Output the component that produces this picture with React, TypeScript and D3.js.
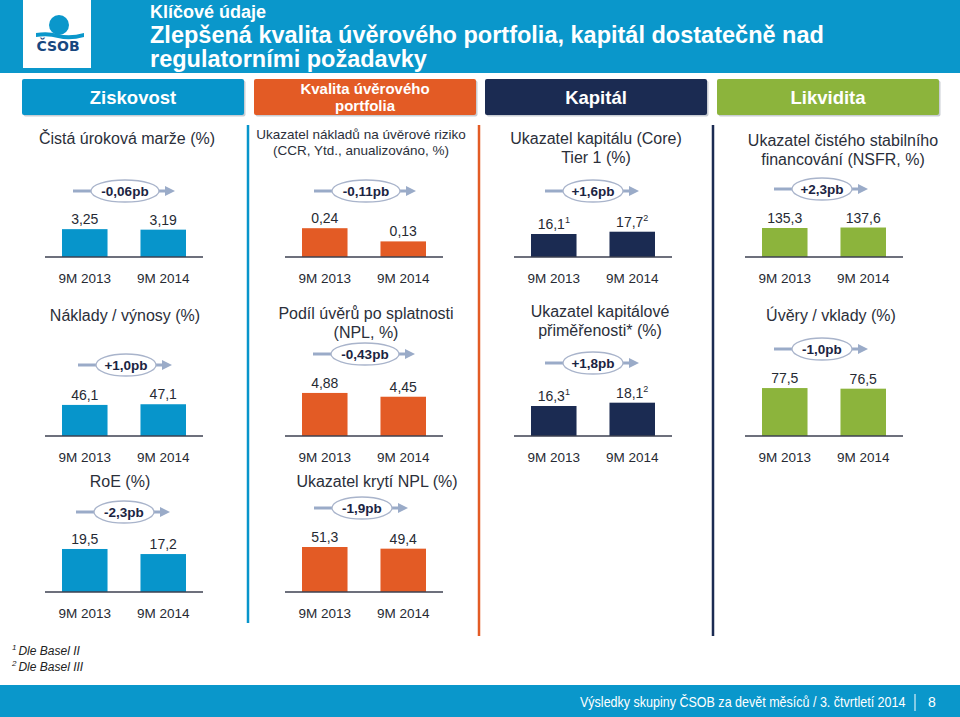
import React from "react";
import * as d3 from "d3";

// ---------- data ----------
const periods = ["9M 2013", "9M 2014"];
const sectionNames = [["Ziskovost"], ["Kvalita úvěrového", "portfolia"], ["Kapitál"], ["Likvidita"]];
const panelTitles = [
  ["Čistá úroková marže (%)"],
  ["Ukazatel nákladů na úvěrové riziko", "(CCR, Ytd., anualizováno, %)"],
  ["Ukazatel kapitálu (Core)", "Tier 1 (%)"],
  ["Ukazatel čistého stabilního", "financování (NSFR, %)"],
  ["Náklady / výnosy (%)"],
  ["Podíl úvěrů po splatnosti", "(NPL, %)"],
  ["Ukazatel kapitálové", "přiměřenosti* (%)"],
  ["Úvěry / vklady (%)"],
  ["RoE (%)"],
  ["Ukazatel krytí NPL (%)"],
];
const values2013 = [3.25, 0.24, 16.1, 135.3, 46.1, 4.88, 16.3, 77.5, 19.5, 51.3];
const values2014 = [3.19, 0.13, 17.7, 137.6, 47.1, 4.45, 18.1, 76.5, 17.2, 49.4];
const labels2013 = ["3,25", "0,24", "16,1", "135,3", "46,1", "4,88", "16,3", "77,5", "19,5", "51,3"];
const labels2014 = ["3,19", "0,13", "17,7", "137,6", "47,1", "4,45", "18,1", "76,5", "17,2", "49,4"];
const notes2013 = ["", "", "1", "", "", "", "1", "", "", ""];
const notes2014 = ["", "", "2", "", "", "", "2", "", "", ""];
const changeLabels = ["-0,06pb", "-0,11pb", "+1,6pb", "+2,3pb", "+1,0pb", "-0,43pb", "+1,8pb", "-1,0pb", "-2,3pb", "-1,9pb"];
const yMax = [7, 0.5, 42, 280, 89, 6.8, 32.6, 97, 27.2, 68.4];
const footnotes = [["1", "Dle Basel II"], ["2", "Dle Basel III"]];
const titleLine1 = "Klíčové údaje";
const titleLine2 = "Zlepšená kvalita úvěrového portfolia, kapitál dostatečně nad";
const titleLine3 = "regulatorními požadavky";
const footerText = "Výsledky skupiny ČSOB za devět měsíců / 3. čtvrtletí 2014";
const pageNumber = "8";

// ---------- layout / style ----------
const W = 960, H = 717;
const FONT = "'Liberation Sans', Arial, Helvetica, sans-serif";
const colColors = ["#0795CB", "#E35B25", "#1B2B52", "#8CB43C"];
const headerX = [22, 254, 485, 717];
const headerW = 222;
const sepX = [248, 479, 713];
const sepEnd = [623, 636, 636];
const panelCol = [0, 1, 2, 3, 0, 1, 2, 3, 0, 1];
const panelRow = [0, 0, 0, 0, 1, 1, 1, 1, 2, 2];
const rowBase = [257, 436, 592];
const barX0 = [62, 302, 531, 762];
const barSpan = 124;
const chartH = 60;
const titleX = [127, 361, 596, 843, 125, 366, 600, 831, 120, 377];
const titleY = [144, 139, 144, 146, 321, 319, 317, 321, 487, 487];
const titleSize = [16, 13.5, 16, 16, 16, 16, 16, 16, 16, 16];
const titleLead = [0, 15.5, 19, 19, 0, 19, 19, 0, 0, 0];
const badgeX = [125, 366, 593, 822, 126, 365, 593, 822, 124, 362];
const badgeY = [191, 191, 191, 189, 365, 354, 363, 349, 512, 508];
const catLabelY = [283, 462, 618];

const textDark = "#262a33";

function Badge({ x, y, label }: { x: number; y: number; label: string }) {
  const rx = label.length * 4 + 6;
  const ry = 11;
  const arrow = "#9AABC8";
  return (
    <g>
      <line x1={x - rx - 18} y1={y} x2={x - rx} y2={y} stroke={arrow} strokeWidth={3} />
      <line x1={x + rx} y1={y} x2={x + rx + 8} y2={y} stroke={arrow} strokeWidth={3} />
      <path d={`M${x + rx + 6},${y - 5} L${x + rx + 16},${y} L${x + rx + 6},${y + 5} Z`} fill={arrow} />
      <ellipse cx={x} cy={y} rx={rx} ry={ry} fill="#fff" stroke="#A9B4CB" strokeWidth={1.3} />
      <text x={x} y={y + 4.8} textAnchor="middle" fontSize={13.5} fontWeight="bold" fill="#1B2442" fontFamily={FONT}>
        {label}
      </text>
    </g>
  );
}

function Panel({ i }: { i: number }) {
  const col = panelCol[i];
  const row = panelRow[i];
  const base = rowBase[row];
  const x = d3.scaleBand<string>().domain(periods).range([barX0[col], barX0[col] + barSpan]).paddingInner(0.42);
  const y = d3.scaleLinear().domain([0, yMax[i]]).range([base, base - chartH]);
  const vals = [values2013[i], values2014[i]];
  const labs = [labels2013[i], labels2014[i]];
  const notes = [notes2013[i], notes2014[i]];
  const color = colColors[col];
  return (
    <g>
      {panelTitles[i].map((t, k) => (
        <text key={k} x={titleX[i]} y={titleY[i] + k * titleLead[i]} textAnchor="middle" fontSize={titleSize[i]} fill="#2b2f3a" fontFamily={FONT}>
          {t}
        </text>
      ))}
      <Badge x={badgeX[i]} y={badgeY[i]} label={changeLabels[i]} />
      {periods.map((p, k) => (
        <g key={p}>
          <rect x={x(p)} y={y(vals[k])} width={x.bandwidth()} height={base - y(vals[k])} fill={color} />
          <text x={(x(p) as number) + x.bandwidth() / 2} y={y(vals[k]) - 5} textAnchor="middle" fontSize={14} fill={textDark} fontFamily={FONT}>
            {labs[k]}
            {notes[k] ? (
              <tspan fontSize={9} dy={-6}>{notes[k]}</tspan>
            ) : null}
          </text>
          <text x={(x(p) as number) + x.bandwidth() / 2} y={catLabelY[row]} textAnchor="middle" fontSize={13.5} fill={textDark} fontFamily={FONT}>
            {p}
          </text>
        </g>
      ))}
      <line x1={barX0[col] - 17} x2={barX0[col] + barSpan + 17} y1={base} y2={base} stroke="#3d4150" strokeWidth={1.5} />
    </g>
  );
}

export default function App() {
  return (
    <svg width={W} height={H} style={{ position: "absolute", left: 0, top: 0, background: "#fff" }} fontFamily={FONT}>
      {/* title band */}
      <rect x={0} y={0} width={W} height={73} fill="#0A97CB" />
      <rect x={23} y={0} width={68} height={68} fill="#fff" />
      <circle cx={59} cy={25} r={10} fill="#0A97CB" />
      <path d="M36,33 Q48,31 58,34 Q70,37 84,33 L84,37 Q70,41 58,38 Q48,35 36,37 Z" fill="#0A97CB" />
      <text x={58} y={51} textAnchor="middle" fontSize={14} fontWeight="bold" fill="#17477F" fontFamily="'DejaVu Sans', sans-serif">ČSOB</text>
      <text x={150} y={18} fontSize={18} fontWeight="bold" fill="#fff">{titleLine1}</text>
      <text x={150} y={43} fontSize={23.5} fontWeight="bold" fill="#fff">{titleLine2}</text>
      <text x={150} y={67} fontSize={23.5} fontWeight="bold" fill="#fff">{titleLine3}</text>

      {/* section headers */}
      {sectionNames.map((lines, k) => (
        <g key={k}>
          <rect x={headerX[k] + 1.5} y={80.5} width={headerW} height={36} rx={2} fill="#c9cdd3" />
          <rect x={headerX[k]} y={79} width={headerW} height={36} rx={2} fill={colColors[k]} />
          {lines.length === 1 ? (
            <text x={headerX[k] + headerW / 2} y={104} textAnchor="middle" fontSize={18.5} fontWeight="bold" fill="#fff">
              {lines[0]}
            </text>
          ) : (
            lines.map((l, j) => (
              <text key={j} x={headerX[k] + headerW / 2} y={94 + j * 17} textAnchor="middle" fontSize={15} fontWeight="bold" fill="#fff">
                {l}
              </text>
            ))
          )}
        </g>
      ))}

      {/* separators */}
      {sepX.map((sx, k) => (
        <line key={k} x1={sx} x2={sx} y1={125} y2={sepEnd[k]} stroke={colColors[k]} strokeWidth={2.5} />
      ))}

      {panelTitles.map((_, i) => (
        <Panel key={i} i={i} />
      ))}

      {/* footnotes */}
      {footnotes.map((f, k) => (
        <text key={k} x={12} y={655 + k * 16} fontSize={12} fontStyle="italic" fill="#222">
          <tspan fontSize={8} dy={-5}>{f[0]}</tspan>
          <tspan dy={5} dx={2}>{f[1]}</tspan>
        </text>
      ))}

      {/* footer */}
      <rect x={0} y={685} width={W} height={32} fill="#0A97CB" />
      <g transform="translate(580,707) scale(0.895,1)">
        <text x={0} y={0} fontSize={14} fill="#fff">{footerText}</text>
      </g>
      <line x1={915} x2={915} y1={694} y2={711} stroke="#fff" strokeWidth={1} />
      <text x={932} y={707} textAnchor="middle" fontSize={14} fill="#fff">{pageNumber}</text>
    </svg>
  );
}
